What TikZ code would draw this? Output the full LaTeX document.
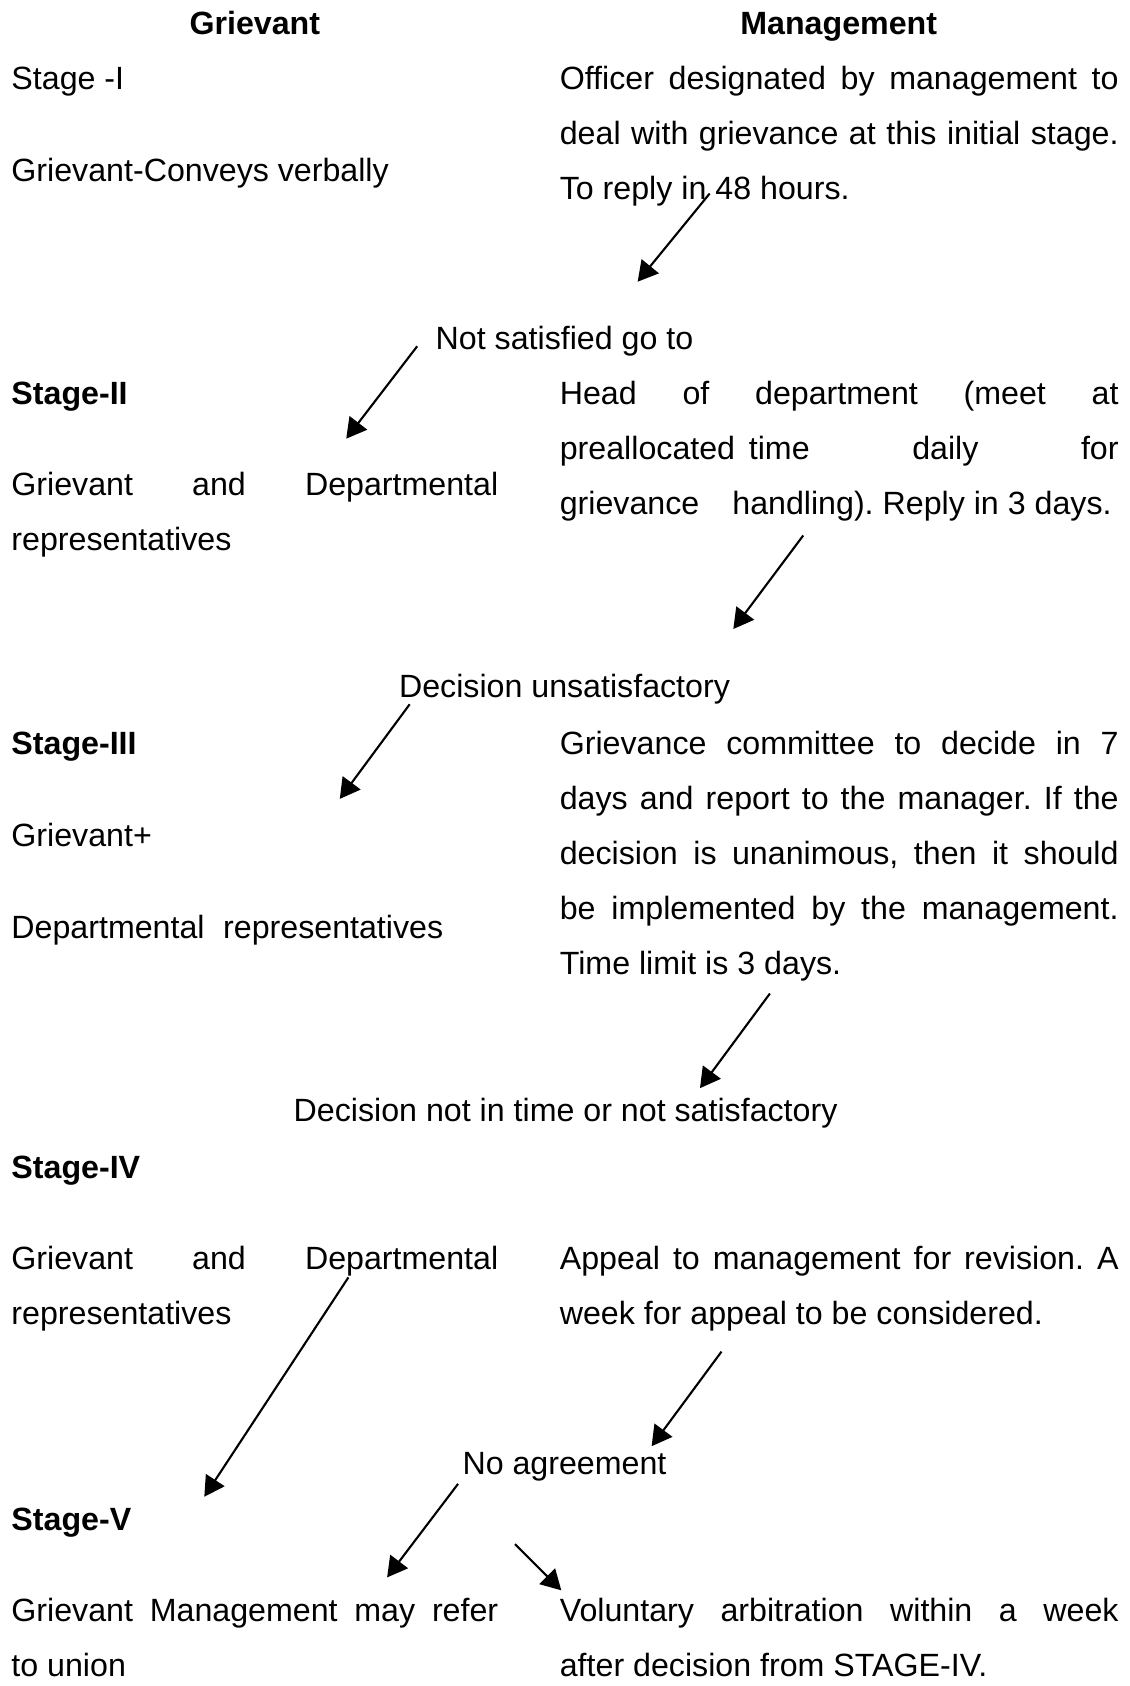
\documentclass[tikz,border=0pt]{standalone}
\usepackage{fontspec}
\setmainfont{Liberation Sans}
\usepackage{tikz}
\usetikzlibrary{arrows.meta}
\hyphenpenalty=10000
\tolerance=10000
\frenchspacing

\begin{document}
\begin{tikzpicture}[x=0.010752cm,y=-0.010752cm,
  every node/.style={inner sep=0pt,font=\fontsize{9.16pt}{15.66pt}\selectfont},
  txt/.style={anchor=base west},
  stagelbl/.style={anchor=base west,font=\fontsize{9.16pt}{15.66pt}\selectfont\bfseries},
  colhead/.style={anchor=base,font=\fontsize{9.16pt}{15.66pt}\selectfont\bfseries},
  midtxt/.style={anchor=base},
  lpar/.style={anchor=base west,text width=4.87cm,align=justify},
  rpar/.style={anchor=base west,text width=5.59cm,align=justify},
  arr/.style={line width=0.6pt,-{Triangle[length=2mm,width=2.2mm]}}]
  \useasboundingbox (0,0) rectangle (1050,1568);
  % column heads
  \node[colhead] (hgriev) at (237,32) {Grievant};
  \node[colhead] (hmgmt) at (780,32) {Management};
  % Stage I
  \node[txt] (st1) at (10,83) {Stage -I};
  \node[txt] (st1g) at (10,169) {Grievant-Conveys verbally};
  \node[rpar] (st1m) at (520,83) {Officer designated by management to\linebreak
    deal with grievance at this initial stage.\linebreak To reply in 48 hours.};
  \node[midtxt] (go2) at (525,325) {Not satisfied go to};
  % Stage II
  \node[stagelbl] (st2) at (10,376) {Stage-II};
  \node[lpar] (st2g) at (10,461) {Grievant and Departmental\linebreak representatives};
  \node[rpar] (st2m) at (520,376) {Head of department (meet at\linebreak
    preallocated\hspace{0.15em} time\hfill daily\hfill for\linebreak
    grievance\hspace{0.75em} handling). Reply in 3 days.};
  \node[midtxt] (go3) at (525,649) {Decision unsatisfactory};
  % Stage III
  \node[stagelbl] (st3) at (10,702) {Stage-III};
  \node[txt] (st3g) at (10,787) {Grievant+};
  \node[txt] (st3d) at (10,873) {Departmental\hspace{0.3em} representatives};
  \node[rpar] (st3m) at (520,702) {Grievance committee to decide in 7\linebreak
    days and report to the manager. If the\linebreak
    decision is unanimous, then it should\linebreak
    be implemented by the management.\linebreak Time limit is 3 days.};
  \node[midtxt] (go4) at (526,1043) {Decision not in time or not satisfactory};
  % Stage IV
  \node[stagelbl] (st4) at (10,1096) {Stage-IV};
  \node[lpar] (st4g) at (10,1181) {Grievant and Departmental\linebreak representatives};
  \node[rpar] (st4m) at (520,1181) {Appeal to management for revision. A\linebreak
    week for appeal to be considered.};
  \node[midtxt] (go5) at (525,1371) {No agreement};
  % Stage V
  \node[stagelbl] (st5) at (10,1423) {Stage-V};
  \node[lpar] (st5g) at (10,1508) {Grievant Management may refer\linebreak to union};
  \node[rpar] (st5m) at (520,1508) {Voluntary arbitration within a week\linebreak
    after decision from STAGE-IV.};
  % arrow ends
  \coordinate (a1s) at (660,180);  \coordinate (a1e) at (593,262);
  \coordinate (a2s) at (388,322);  \coordinate (a2e) at (322,408);
  \coordinate (a3s) at (747,498);  \coordinate (a3e) at (682,585);
  \coordinate (a4s) at (381,655);  \coordinate (a4e) at (316,743);
  \coordinate (a5s) at (716,924);  \coordinate (a5e) at (651,1012);
  \coordinate (a6s) at (324,1188); \coordinate (a6e) at (190,1392);
  \coordinate (a7s) at (671,1257); \coordinate (a7e) at (606,1345);
  \coordinate (a8s) at (426,1380); \coordinate (a8e) at (360,1467);
  \coordinate (a9s) at (479,1436); \coordinate (a9e) at (522,1479);
  \draw[arr] (a1s) -- (a1e);
  \draw[arr] (a2s) -- (a2e);
  \draw[arr] (a3s) -- (a3e);
  \draw[arr] (a4s) -- (a4e);
  \draw[arr] (a5s) -- (a5e);
  \draw[arr] (a6s) -- (a6e);
  \draw[arr] (a7s) -- (a7e);
  \draw[arr] (a8s) -- (a8e);
  \draw[arr] (a9s) -- (a9e);
\end{tikzpicture}
\end{document}
